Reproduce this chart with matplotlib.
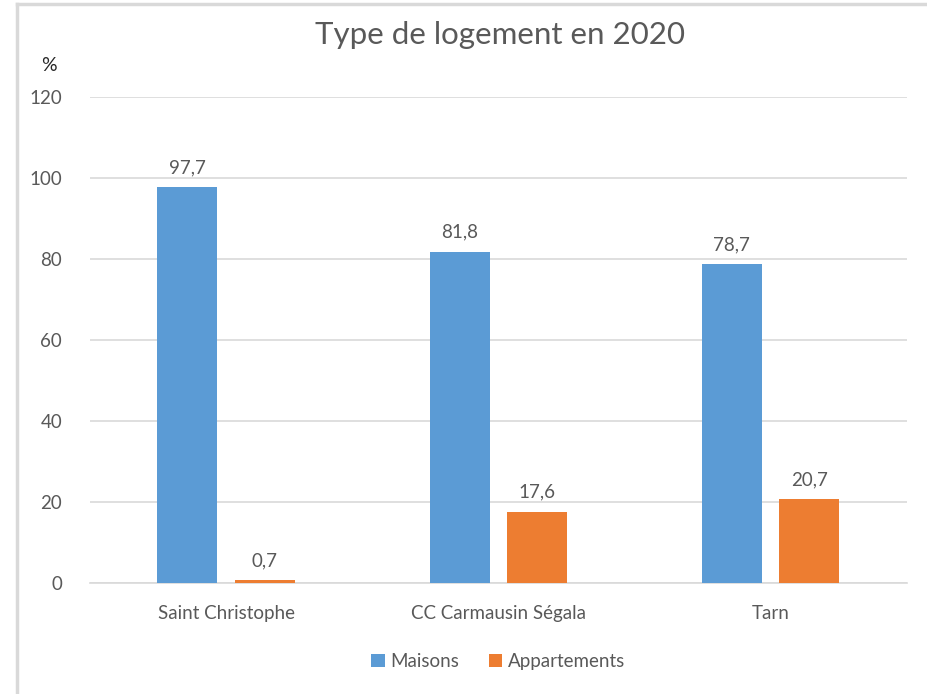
import matplotlib.pyplot as plt
import numpy as np
from matplotlib.lines import Line2D

plt.rcParams['font.family'] = ['Lato', 'DejaVu Sans']

categories = ['Saint Christophe', 'CC Carmausin Ségala', 'Tarn']
maisons = [97.7, 81.8, 78.7]
appartements = [0.7, 17.6, 20.7]
labels_m = ['97,7', '81,8', '78,7']
labels_a = ['0,7', '17,6', '20,7']

blue = '#5B9BD5'
orange = '#ED7D31'
txt = '#595959'

fig = plt.figure(figsize=(9.27, 6.94), dpi=100)
ax = fig.add_axes([0.097, 0.160, 0.881, 0.700])

x = np.arange(len(categories))
w = 0.22
off = 0.142
b1 = ax.bar(x - off, maisons, w, color=blue, label='Maisons', zorder=3)
b2 = ax.bar(x + off, appartements, w, color=orange, label='Appartements', zorder=3)

for bars, labs in ((b1, labels_m), (b2, labels_a)):
    for r, l in zip(bars, labs):
        ax.annotate(l, (r.get_x() + r.get_width() / 2, r.get_height()),
                    xytext=(0, 8), textcoords='offset points',
                    ha='center', va='bottom', fontsize=13.5, color=txt)

ax.set_xlim(-0.5, 2.5)
ax.set_ylim(0, 120)
ax.set_yticks(range(0, 121, 20))
ax.set_xticks(x)
ax.set_xticklabels(categories)
ax.grid(axis='y', color='#D9D9D9', linewidth=1.2, zorder=0)
for s in ['top', 'right', 'left']:
    ax.spines[s].set_visible(False)
ax.spines['bottom'].set_color('#D9D9D9')
ax.spines['bottom'].set_linewidth(1.2)
ax.tick_params(axis='both', length=0, labelsize=13.5, colors=txt)
ax.tick_params(axis='x', pad=16)
ax.tick_params(axis='y', pad=20)

fig.text(0.539, 0.950, 'Type de logement en 2020', ha='center', va='center',
         fontsize=22.5, color=txt)
fig.text(0.053, 0.905, '%', ha='center', va='center', fontsize=14, color='#262626')

ax.legend(loc='center', bbox_to_anchor=(0.5, -0.162), ncol=2, frameon=False,
          fontsize=13.5, labelcolor=txt, handlelength=0.7, handleheight=0.7,
          handletextpad=0.3, columnspacing=1.6)

# chart border (top and left edges visible)
fig.add_artist(Line2D([0.018, 1.0], [0.994, 0.994], color='#D9D9D9', linewidth=2.5))
fig.add_artist(Line2D([0.018, 0.018], [0.0, 0.994], color='#D9D9D9', linewidth=2.5))

fig.savefig('out.png', dpi=100, facecolor='white')
